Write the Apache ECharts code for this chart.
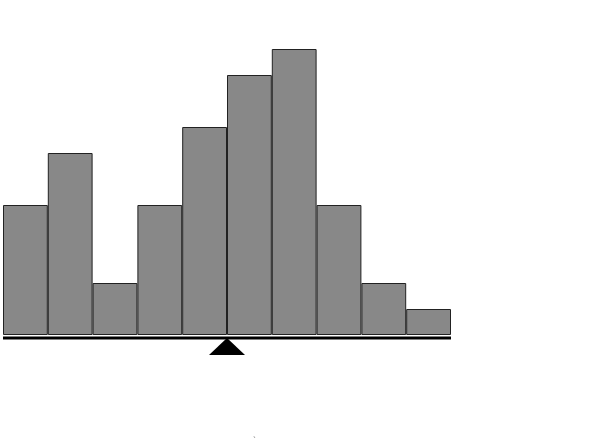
<!DOCTYPE html>
<html><head><meta charset="utf-8">
<script src="https://cdn.jsdelivr.net/npm/echarts@6/dist/echarts.min.js"></script>
<style>html,body{margin:0;padding:0;background:#fff}#c{width:600px;height:444px}</style>
</head><body><div id="c"></div>
<script>
var categories = ['1','2','3','4','5','6','7','8','9','10'];
var counts = [5, 7, 2, 5, 8, 10, 11, 5, 2, 1];
var fulcrum = [5];
var chart = echarts.init(document.getElementById('c'), null, {renderer:'canvas'});
chart.setOption({
  animation: false,
  backgroundColor: '#fff',
  grid: {left: 3, right: 149, top: 23, bottom: 109},
  xAxis: [
    {type: 'category', data: categories, show: false, boundaryGap: true},
    {type: 'value', min: 0, max: 10, show: false}
  ],
  yAxis: {type: 'value', min: 0, max: 12, show: false},
  series: [
    {type: 'bar', data: counts, xAxisIndex: 0, barWidth: '100%', barCategoryGap: '0%',
     itemStyle: {color: '#888888', borderColor: '#222', borderWidth: 1}},
    {type: 'custom', xAxisIndex: 1, data: fulcrum, clip: false,
     renderItem: function(params, api){
       var c = api.coord([api.value(0), 0]);
       var a = api.coord([0, 0]);
       var b = api.coord([10, 0]);
       var y = c[1] + 3;
       return {type: 'group', children: [
         {type: 'rect', shape: {x: a[0], y: y - 1.5, width: b[0] - a[0], height: 3}, style: {fill: '#000'}},
         {type: 'polygon', shape: {points: [[c[0], y], [c[0] - 18, y + 17], [c[0] + 18, y + 17]]}, style: {fill: '#000'}}
       ]};
     }}
  ],
  graphic: [{type: 'text', left: 253, top: 436, style: {text: '`', fill: '#777', font: '9px sans-serif'}}]
});
</script></body></html>
